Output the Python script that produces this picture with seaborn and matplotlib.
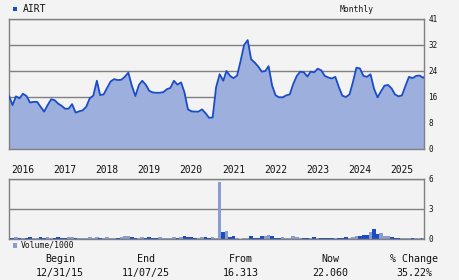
import matplotlib
matplotlib.use("Agg")
import matplotlib.pyplot as plt
import seaborn as sns
import pandas as pd
import numpy as np
from matplotlib.patches import Rectangle

# ---------------- data ----------------
ticker = "AIRT"
period = "Monthly"
price = [
    16.31, 13.5, 16.2, 15.6, 17.0, 16.3, 14.3, 14.5, 14.5, 13.0,
    11.5, 13.5, 15.3, 15.0, 14.0, 13.3, 12.4, 12.4, 13.8, 11.2,
    11.6, 11.9, 13.0, 15.6, 16.4, 21.0, 16.6, 16.8, 18.8, 20.8,
    21.5, 21.2, 21.3, 22.2, 23.5, 19.5, 16.3, 19.7, 21.0, 19.8,
    17.9, 17.4, 17.3, 17.3, 17.5, 18.4, 18.8, 21.0, 19.8, 20.5,
    17.5, 12.2, 11.6, 11.5, 11.5, 12.2, 11.0, 9.6, 9.7, 19.0,
    23.0, 21.0, 24.0, 22.5, 21.8, 22.6, 27.0, 32.0, 33.5, 27.6,
    26.6, 25.4, 23.8, 24.0, 25.5, 19.5, 16.5, 15.9, 15.9, 16.5,
    16.8, 20.0, 22.5, 23.8, 23.6, 22.3, 23.8, 23.6, 24.7, 24.2,
    22.5, 22.0, 21.7, 22.2, 19.0, 16.4, 16.0, 16.8, 20.5, 25.0,
    24.8, 22.5, 22.2, 23.0, 18.5, 15.9, 17.8, 19.5, 19.7, 18.6,
    16.8, 16.2, 16.5, 19.5, 22.2, 21.8, 22.5, 22.6, 21.9, 22.06,
]
volume = [
    0.15, 0.1, 0.2, 0.1, 0.15, 0.1, 0.2, 0.15, 0.1, 0.2,
    0.15, 0.2, 0.1, 0.15, 0.2, 0.1, 0.15, 0.2, 0.2, 0.1,
    0.15, 0.15, 0.1, 0.2, 0.15, 0.2, 0.1, 0.15, 0.2, 0.15,
    0.1, 0.15, 0.2, 0.3, 0.35, 0.2, 0.15, 0.1, 0.2, 0.15,
    0.2, 0.15, 0.1, 0.2, 0.15, 0.1, 0.15, 0.2, 0.15, 0.2,
    0.3, 0.25, 0.2, 0.15, 0.15, 0.2, 0.2, 0.15, 0.2, 0.12,
    5.75, 0.73, 0.8, 0.23, 0.3, 0.07, 0.05, 0.1, 0.1, 0.3,
    0.1, 0.1, 0.3, 0.3, 0.4, 0.3, 0.1, 0.1, 0.2, 0.1,
    0.1, 0.3, 0.2, 0.1, 0.1, 0.15, 0.1, 0.2, 0.1, 0.15,
    0.1, 0.15, 0.1, 0.15, 0.1, 0.15, 0.2, 0.15, 0.2, 0.3,
    0.3, 0.4, 0.4, 0.67, 1.0, 0.5, 0.6, 0.3, 0.3, 0.2,
    0.15, 0.1, 0.1, 0.15, 0.1, 0.15, 0.1, 0.15, 0.1, 0.12,
]
dates = list(pd.date_range("2015-12-31", "2025-10-31", freq="ME")) + [pd.Timestamp("2025-11-07")]
year_labels = ["2016", "2017", "2018", "2019", "2020", "2021", "2022", "2023", "2024", "2025"]
price_ticks = [0, 8, 16, 24, 32, 40]
price_tick_labels = ["0", "8", "16", "24", "32", "41"]
vol_ticks = [0, 3, 6]
summary_labels = ["Begin", "End", "From", "Now", "% Change"]
summary_values = ["12/31/15", "11/07/25", "16.313", "22.060", "35.22%"]

n = min(len(dates), len(price), len(volume))
df = pd.DataFrame({"date": dates[:n], "price": price[:n], "volume": volume[:n]})

# ---------------- style ----------------
BG = "#f3f3f3"
LINE = "#1a4cc8"
FILL = "#9cafdd"
VOL_UP = "#8a9dd0"
VOL_DN = "#1a4cc8"
GRID = "#808080"
TXT = "#111111"

sns.set_style("white")
plt.rcParams["font.family"] = ["DejaVu Sans Mono", "DejaVu Sans"]

W, H = 460, 280
fig = plt.figure(figsize=(W / 100, H / 100), dpi=100, facecolor=BG)

def fx(px):
    return px / W

def fy(py):
    return 1 - py / H

ax1 = fig.add_axes([fx(9), fy(149), fx(415), 130 / H], facecolor=BG)
ax2 = fig.add_axes([fx(9), fy(239), fx(415), 60 / H], facecolor=BG)

# price panel
ax1.fill_between(df["date"], df["price"], 0, color=FILL, lw=0, zorder=2)
sns.lineplot(data=df, x="date", y="price", ax=ax1, color=LINE, lw=1.3, zorder=3)
ax1.set_ylim(0, 40)
ax1.set_xlim(df["date"].iloc[0], df["date"].iloc[-1])
ax1.set_yticks(price_ticks)
ax1.set_yticklabels(price_tick_labels)
ax1.yaxis.tick_right()
ax1.set_xticks([])
ax1.set_xlabel("")
ax1.set_ylabel("")
ax1.set_axisbelow(True)
ax1.yaxis.grid(True, color=GRID, lw=1)
ax1.tick_params(axis="y", length=0, pad=3, labelsize=5.5, colors=TXT)

# year labels
for yl in year_labels:
    ax1.annotate(yl, xy=(pd.Timestamp(f"{yl}-01-01"), 0), xycoords=("data", "axes fraction"),
                 xytext=(2, -21), textcoords="offset pixels", ha="left", va="center",
                 fontsize=6.9, color=TXT)

# volume panel
colors = [VOL_DN] + [VOL_UP if df["price"].iloc[i] >= df["price"].iloc[i - 1] else VOL_DN
                     for i in range(1, n)]
ax2.bar(df["date"], df["volume"], width=31, color=colors, lw=0, zorder=2)
ax2.set_ylim(0, 6)
ax2.set_xlim(df["date"].iloc[0], df["date"].iloc[-1])
ax2.set_yticks(vol_ticks)
ax2.yaxis.tick_right()
ax2.set_xticks([])
ax2.set_axisbelow(True)
ax2.yaxis.grid(True, color=GRID, lw=1)
ax2.tick_params(axis="y", length=0, pad=3, labelsize=5.5, colors=TXT)

for ax in (ax1, ax2):
    for s in ax.spines.values():
        s.set_color(GRID)
        s.set_linewidth(1)
        s.set_visible(True)

# headers / legends
fig.patches.append(Rectangle((fx(13.3), fy(11.3)), 4 / W, 4.6 / H, transform=fig.transFigure,
                             color=LINE, lw=0))
fig.text(fx(22.5), fy(9), ticker, ha="left", va="center", fontsize=7, color=TXT)
fig.text(fx(357), fy(9), period, ha="center", va="center", fontsize=5.8, color=TXT)
fig.patches.append(Rectangle((fx(13.3), fy(247.7)), 4 / W, 4.4 / H, transform=fig.transFigure,
                             color=VOL_UP, lw=0))
fig.text(fx(20.7), fy(245.5), "Volume/1000", ha="left", va="center", fontsize=5.8, color=TXT)

# summary row
xs = [60, 146, 241, 330, 414]
for x, lab, val in zip(xs, summary_labels, summary_values):
    fig.text(fx(x), fy(259), lab, ha="center", va="center", fontsize=7.2, color=TXT)
    fig.text(fx(x), fy(273), val, ha="center", va="center", fontsize=7.2, color=TXT)

fig.savefig("out.png", dpi=100, facecolor=BG)
